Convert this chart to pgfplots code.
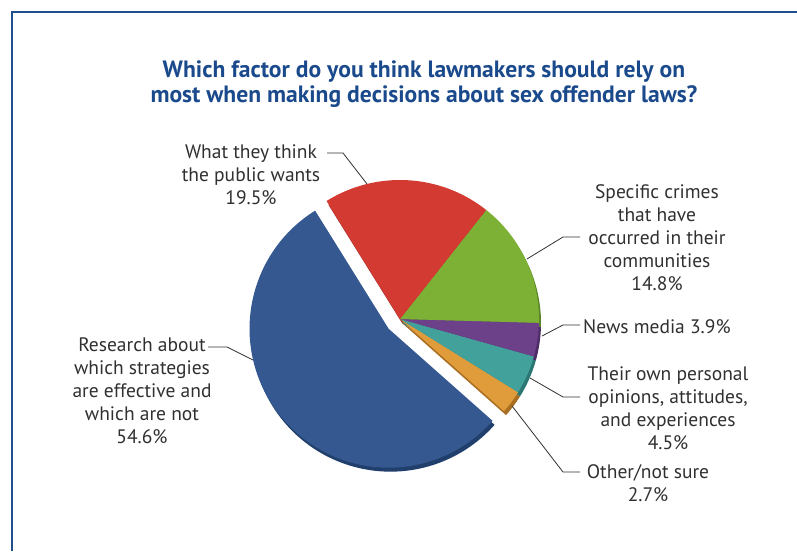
\documentclass[border=0pt]{standalone}
\usepackage{pgfplots}
\pgfplotsset{compat=1.18}
\usepackage{pgfplotstable}
\usepackage{fontspec}
\setmainfont{PT Sans}
\definecolor{cBlue}{HTML}{34588F}
\definecolor{cBlueD}{HTML}{213F6C}
\definecolor{cRed}{HTML}{D23A32}
\definecolor{cRedD}{HTML}{9E2A24}
\definecolor{cGreen}{HTML}{7CB136}
\definecolor{cGreenD}{HTML}{5A8526}
\definecolor{cPurple}{HTML}{6C418A}
\definecolor{cPurpleD}{HTML}{4E2D66}
\definecolor{cTeal}{HTML}{43A19C}
\definecolor{cTealD}{HTML}{2C7773}
\definecolor{cOrange}{HTML}{E09C3A}
\definecolor{cOrangeD}{HTML}{A86E22}
\definecolor{cTitle}{HTML}{1B4A8C}
\definecolor{cFrame}{HTML}{1F4E8A}
\definecolor{cText}{HTML}{303030}
\tikzset{lbl/.style={text=cText,font=\fontsize{19.5}{23}\selectfont,inner sep=0pt}}
% pie values (percent), counter-clockwise from the red/blue boundary
\pgfplotstableread{
label value
Research 54.6
Other 2.7
Opinions 4.5
News 3.9
Crimes 14.8
Public 19.5
}\piedata
\def\R{139}
\def\startangle{121.9}
\newcommand\slicedraw[5]{% value, colour, explode, dx, dy
 \pgfmathsetmacro\sa{\cum}%
 \pgfmathsetmacro\ea{\cum+3.6*#1}%
 \pgfmathsetmacro\ma{(\sa+\ea)/2}%
 \pgfmathsetmacro\cx{400+#3*cos(\ma)+#4}%
 \pgfmathsetmacro\cy{232+#3*sin(\ma)+#5}%
 \edef\doit{\noexpand\fill[#2] (axis cs:\cx,\cy) -- ++(\sa:\R pt) arc[start angle=\sa, end angle=\ea, radius=\R pt] -- cycle;}%
 \doit
 \xdef\cum{\ea}%
}
\newcommand\pielayer[3]{% colour suffix, dx, dy
 \xdef\cum{\startangle}%
 \pgfplotsforeachungrouped \i in {0,...,5}{%
   \pgfplotstablegetelem{\i}{value}\of\piedata
   \let\v\pgfplotsretval
   \ifcase\i \def\col{cBlue}\def\ex{15}\or \def\col{cOrange}\def\ex{0}\or \def\col{cTeal}\def\ex{0}\or \def\col{cPurple}\def\ex{0}\or \def\col{cGreen}\def\ex{0}\or \def\col{cRed}\def\ex{0}\fi
   \edef\dos{\noexpand\slicedraw{\v}{\col#1}{\ex}{#2}{#3}}\dos
 }%
}
\begin{document}
\begin{tikzpicture}
\begin{axis}[x=1pt,y=1pt,xmin=0,xmax=797,ymin=0,ymax=551,hide axis,clip=false]
\pielayer{D}{2}{-4}
\pielayer{}{0}{0}
% frame
\draw[cFrame,line width=1.5pt] (axis cs:12,0) -- (axis cs:12,539) -- (axis cs:797,539);
% title
\node[align=center,text=cTitle,font=\bfseries\fontsize{23.6}{25}\selectfont] at (axis cs:424,466.5)
 {Which factor do you think lawmakers should rely on\\most when making decisions about sex offender laws?};
% leader lines
\begin{scope}[draw=cText,line width=0.8pt]
\draw (axis cs:327,398) -- (axis cs:343,398) -- (axis cs:367,367);
\draw (axis cs:580,314) -- (axis cs:563,314) -- (axis cs:527,292);
\draw (axis cs:580,226) -- (axis cs:563,226) -- (axis cs:542,215);
\draw (axis cs:580,154) -- (axis cs:563,154) -- (axis cs:530,173);
\draw (axis cs:580,79) -- (axis cs:563,79) -- (axis cs:512,145);
\draw (axis cs:208,204) -- (axis cs:227,204) -- (axis cs:253,191);
\end{scope}
% labels
\node[lbl,align=center] at (axis cs:251,376) {What they think\\the public wants\\19.5\%};
\node[lbl,align=center] at (axis cs:657,313) {Specific crimes\\that have\\occurred in their\\communities\\14.8\%};
\node[lbl,anchor=west] at (axis cs:583,224) {News media 3.9\%};
\node[lbl,align=center] at (axis cs:668,142.5) {Their own personal\\opinions, attitudes,\\and experiences\\4.5\%};
\node[lbl,align=center] at (axis cs:648,68) {Other/not sure\\2.7\%};
\node[lbl,align=center] at (axis cs:142,160) {Research about\\which strategies\\are effective and\\which are not\\54.6\%};
\end{axis}
\pgfresetboundingbox
\path[use as bounding box] (0,0) rectangle (797pt,551pt);
\end{tikzpicture}
\end{document}
